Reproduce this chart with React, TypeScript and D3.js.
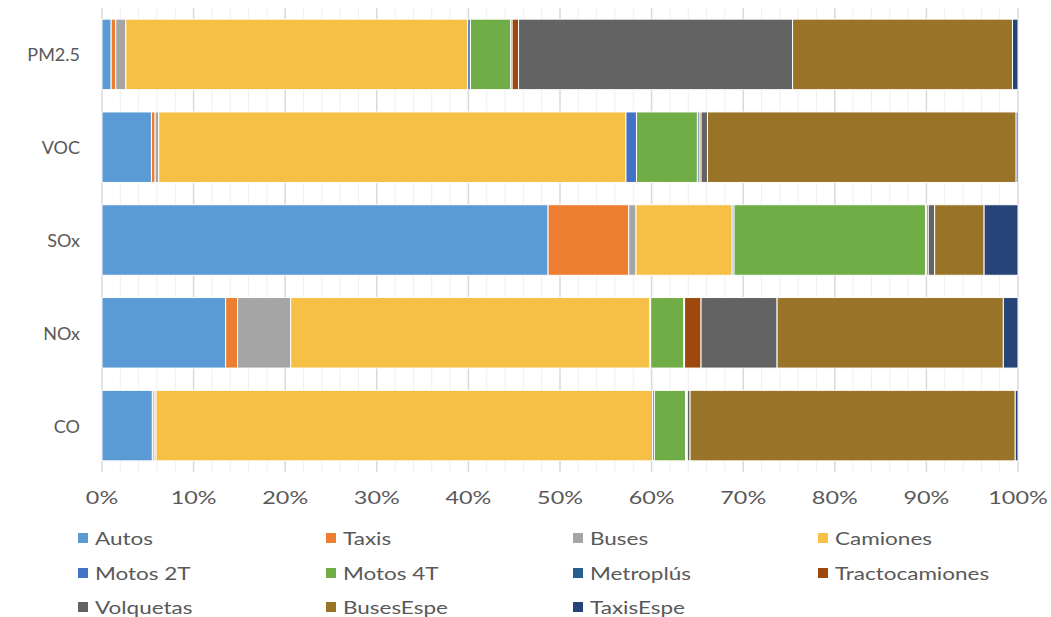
import React from "react";
import * as d3 from "d3";

const categories = ["PM2.5", "VOC", "SOx", "NOx", "CO"];
const seriesNames = [
  "Autos", "Taxis", "Buses", "Camiones", "Motos 2T", "Motos 4T",
  "Metroplús", "Tractocamiones", "Volquetas", "BusesEspe", "TaxisEspe",
];
const seriesColors = [
  "#5B9BD5", "#ED7D31", "#A5A5A5", "#F6BF45", "#4472C4", "#70AD47",
  "#255E91", "#9E480E", "#636363", "#997428", "#264478",
];
// share (%) of each vehicle type per pollutant, same order as seriesNames
const pm25 = [1.0, 0.5, 1.1, 37.3, 0.3, 4.4, 0.15, 0.7, 29.9, 24.0, 0.6];
const voc = [5.4, 0.4, 0.4, 51.0, 1.15, 6.65, 0.2, 0.2, 0.7, 33.7, 0.2];
const sox = [48.7, 8.8, 0.8, 10.5, 0.2, 20.9, 0.1, 0.2, 0.7, 5.4, 3.7];
const nox = [13.5, 1.3, 5.8, 39.2, 0.1, 3.6, 0.1, 1.8, 8.3, 24.7, 1.6];
const co = [5.5, 0.2, 0.2, 54.2, 0.2, 3.4, 0.1, 0.1, 0.3, 35.5, 0.3];
const tickValues = [0, 0.1, 0.2, 0.3, 0.4, 0.5, 0.6, 0.7, 0.8, 0.9, 1.0];

const W = 1051;
const H = 617;
const left = 102;
const right = 1018;
const top = 8;
const bottom = 472;
const FONT = "Lato, 'Open Sans', sans-serif";
const TEXT = "#595959";

export default function App() {
  const rows = [pm25, voc, sox, nox, co];
  const table = categories.map((c, i) => {
    const o: Record<string, any> = { cat: c };
    seriesNames.forEach((s, j) => (o[s] = rows[i][j]));
    return o;
  });
  const stack = d3.stack<any>().keys(seriesNames).offset(d3.stackOffsetExpand);
  const layers = stack(table);

  const x = d3.scaleLinear().domain([0, 1]).range([left, right]);
  const y = d3
    .scaleBand<string>()
    .domain(categories)
    .range([top, bottom])
    .paddingInner(0.24)
    .paddingOuter(0.12);

  const minor = d3.range(0, 1.0001, 0.02);
  const fmt = d3.format(".0%");

  const legendCols = [83, 331, 578, 823];
  const legendRows = [538, 573, 607];

  const label = (
    tx: number,
    ty: number,
    anchor: string,
    txt: string,
    key: string,
    sx: number,
    size: number
  ) => (
    <g key={key} transform={`translate(${tx},${ty}) scale(${sx},1)`}>
      <text
        textAnchor={anchor as any}
        dominantBaseline="central"
        fontFamily={FONT}
        fontSize={size}
        fill={TEXT}
      >
        {txt}
      </text>
    </g>
  );

  return (
    <svg width={W} height={H} style={{ position: "absolute", left: 0, top: 0 }}>
      <rect width={W} height={H} fill="#fff" />
      {minor.map((v, i) => {
        const major = i % 5 === 0;
        return (
          <line
            key={"g" + i}
            x1={x(v)}
            x2={x(v)}
            y1={top}
            y2={bottom}
            stroke={major ? "#d9d9d9" : "#efefef"}
            strokeWidth={major ? 1.5 : 1}
          />
        );
      })}
      {layers.map((layer, li) => (
        <g key={layer.key} fill={seriesColors[li]}>
          {layer.map((d, di) => (
            <rect
              key={di}
              x={x(d[0])}
              y={y(categories[di])}
              width={Math.max(0, x(d[1]) - x(d[0]))}
              height={y.bandwidth()}
              stroke="#fff"
              strokeWidth={1}
            />
          ))}
        </g>
      ))}
      {categories.map((c) =>
        label(80, (y(c) as number) + y.bandwidth() / 2, "end", c, "c" + c, 1.0, 18)
      )}
      {tickValues.map((t) => label(x(t), 497, "middle", fmt(t), "t" + t, 1.3, 18))}
      {seriesNames.map((s, i) => {
        const cx = legendCols[i % 4];
        const cy = legendRows[Math.floor(i / 4)];
        return (
          <g key={"l" + s}>
            <rect x={cx - 5} y={cy - 5} width={10} height={10} fill={seriesColors[i]} />
            {label(cx + 12, cy, "start", s, "lt" + s, 1.25, 18)}
          </g>
        );
      })}
    </svg>
  );
}
